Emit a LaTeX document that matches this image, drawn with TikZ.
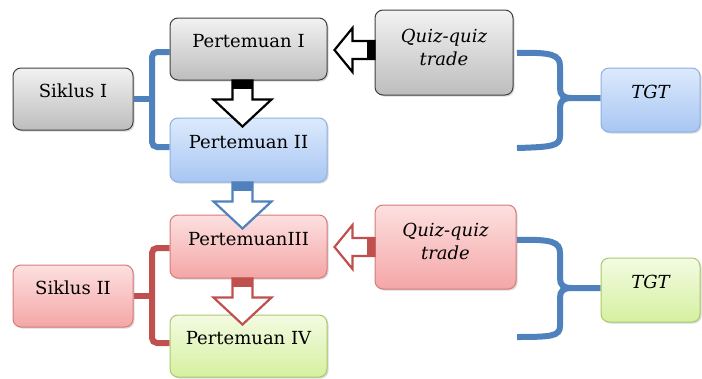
\documentclass[tikz,border=0pt]{standalone}
\usepackage{fontspec}
\setmainfont{DejaVu Serif}
\usetikzlibrary{shadows,calc,backgrounds}
\definecolor{lineblue}{HTML}{4F81BD}
\definecolor{linered}{HTML}{C0504D}
\definecolor{grayedge}{HTML}{404040}
\definecolor{graytop}{HTML}{F2F2F2}
\definecolor{graybot}{HTML}{BDBDBD}
\definecolor{blueedge}{HTML}{8EB0E0}
\definecolor{bluetop}{HTML}{DDEAFC}
\definecolor{bluebot}{HTML}{A7C6F3}
\definecolor{rededge}{HTML}{D47C7A}
\definecolor{redtop}{HTML}{FDE0E0}
\definecolor{redbot}{HTML}{F4A6A6}
\definecolor{greenedge}{HTML}{A9C96A}
\definecolor{greentop}{HTML}{F3FBE2}
\definecolor{greenbot}{HTML}{D5F0A0}
\newcommand\BlockDown[2]{%
  \begin{scope}[shift={(#1.south)},xshift=-6pt]
    \filldraw[fill=white,draw=#2,line width=2.2pt,line join=miter]
      (-10,0) -- (-10,19) -- (-29,19) -- (0,46) -- (29,19) -- (10,19) -- (10,0) -- cycle;
    \fill[#2] (-10,0) rectangle (10,8);
  \end{scope}}
\newcommand\BlockLeft[3]{%
  \begin{scope}[shift={(#1.west)},yshift=#3]
    \filldraw[fill=white,draw=#2,line width=2.2pt,line join=miter]
      (0,-9) -- (-22,-9) -- (-22,-22) -- (-40,0) -- (-22,22) -- (-22,9) -- (0,9) -- cycle;
    \fill[#2] (0,-9) rectangle (-8,9);
  \end{scope}}
\begin{document}
\begin{tikzpicture}[x=1pt,y=-1pt,
  box/.style={rounded corners=8pt,line width=1pt,inner sep=0pt,
    font=\fontsize{18}{22}\selectfont,text height=12pt,text depth=15pt,
    drop shadow={opacity=0.3,shadow xshift=1.5pt,shadow yshift=-1.5pt}},
  graybox/.style={box,draw=grayedge,top color=graytop,bottom color=graybot},
  bluebox/.style={box,draw=blueedge,top color=bluetop,bottom color=bluebot},
  redbox/.style={box,draw=rededge,top color=redtop,bottom color=redbot},
  greenbox/.style={box,draw=greenedge,top color=greentop,bottom color=greenbot},
  pbox/.style={minimum width=157pt,minimum height=62pt},
  sbox/.style={minimum width=120pt,minimum height=62pt},
  qbox/.style={minimum width=138pt,minimum height=85pt,text height=13pt,text depth=34pt,
    font=\fontsize{18}{23}\selectfont\itshape},
  tbox/.style={minimum width=99pt,minimum height=64pt,font=\fontsize{18}{22}\selectfont\itshape},
  bline/.style={draw=lineblue,line width=6pt},
  rline/.style={draw=linered,line width=6pt},
]
\useasboundingbox (0,0) rectangle (702,378);

\node[graybox,pbox] (p1) at (248.5,49) {Pertemuan I};
\node[bluebox,pbox,minimum height=64pt] (p2) at (248.5,150) {Pertemuan II};
\node[redbox,pbox,minimum height=63pt] (p3) at (248.5,246.5) {PertemuanIII};
\node[greenbox,pbox] (p4) at (248.5,346) {Pertemuan IV};
\node[graybox,sbox] (s1) at (73,99) {Siklus I};
\node[redbox,sbox] (s2) at (73,296) {Siklus II};
\node[graybox,qbox] (q1) at (444,52.5) {\begin{tabular}[t]{@{}c@{}}Quiz-quiz\\trade\end{tabular}};
\node[redbox,qbox,minimum width=141pt,minimum height=84pt] (q2) at (445.5,247) {\begin{tabular}[t]{@{}c@{}}Quiz-quiz\\trade\end{tabular}};
\node[bluebox,tbox] (t1) at (650.5,100) {TGT};
\node[greenbox,tbox] (t2) at (650.5,290) {TGT};

\coordinate (b1s) at (517,53);
\coordinate (b1e) at (517,148);
\coordinate (b2s) at (517,240);
\coordinate (b2e) at (517,337);

\begin{scope}[on background layer]
  % Siklus I bracket
  \draw[bline,rounded corners=5pt] ([yshift=-3pt]p1.west) -- (152,52) -- (152,147) -- ([yshift=3pt]p2.west);
  \draw[bline] (s1.east) -- (152,99);
  % Siklus II bracket
  \draw[rline,rounded corners=5pt] ([yshift=-1.5pt]p3.west) -- (152,248) -- (152,343) -- ([yshift=3pt]p4.west);
  \draw[rline] (s2.east) -- (152,296);
  % top brace
  \draw[bline] (b1s) .. controls (552,52) and (560,55) .. (560,66) -- (560,88)
    .. controls (560,95) and (563,98) .. (572,98) -- ([yshift=2pt]t1.west);
  \draw[bline] (572,98) .. controls (563,98) and (560,101) .. (560,108) -- (560,136)
    .. controls (560,146) and (552,147) .. (b1e);
  % bottom brace
  \draw[bline] (b2s) .. controls (552,239) and (560,242) .. (560,253) -- (560,278)
    .. controls (560,285) and (563,288) .. (572,288) -- ([yshift=2pt]t2.west);
  \draw[bline] (572,288) .. controls (563,288) and (560,291) .. (560,298) -- (560,326)
    .. controls (560,336) and (552,337) .. (b2e);
\end{scope}

\BlockDown{p1}{black}
\BlockDown{p2}{lineblue}
\BlockDown{p3}{linered}
\BlockLeft{q1}{black}{2.5pt}
\BlockLeft{q2}{linered}{0pt}
\end{tikzpicture}
\end{document}
